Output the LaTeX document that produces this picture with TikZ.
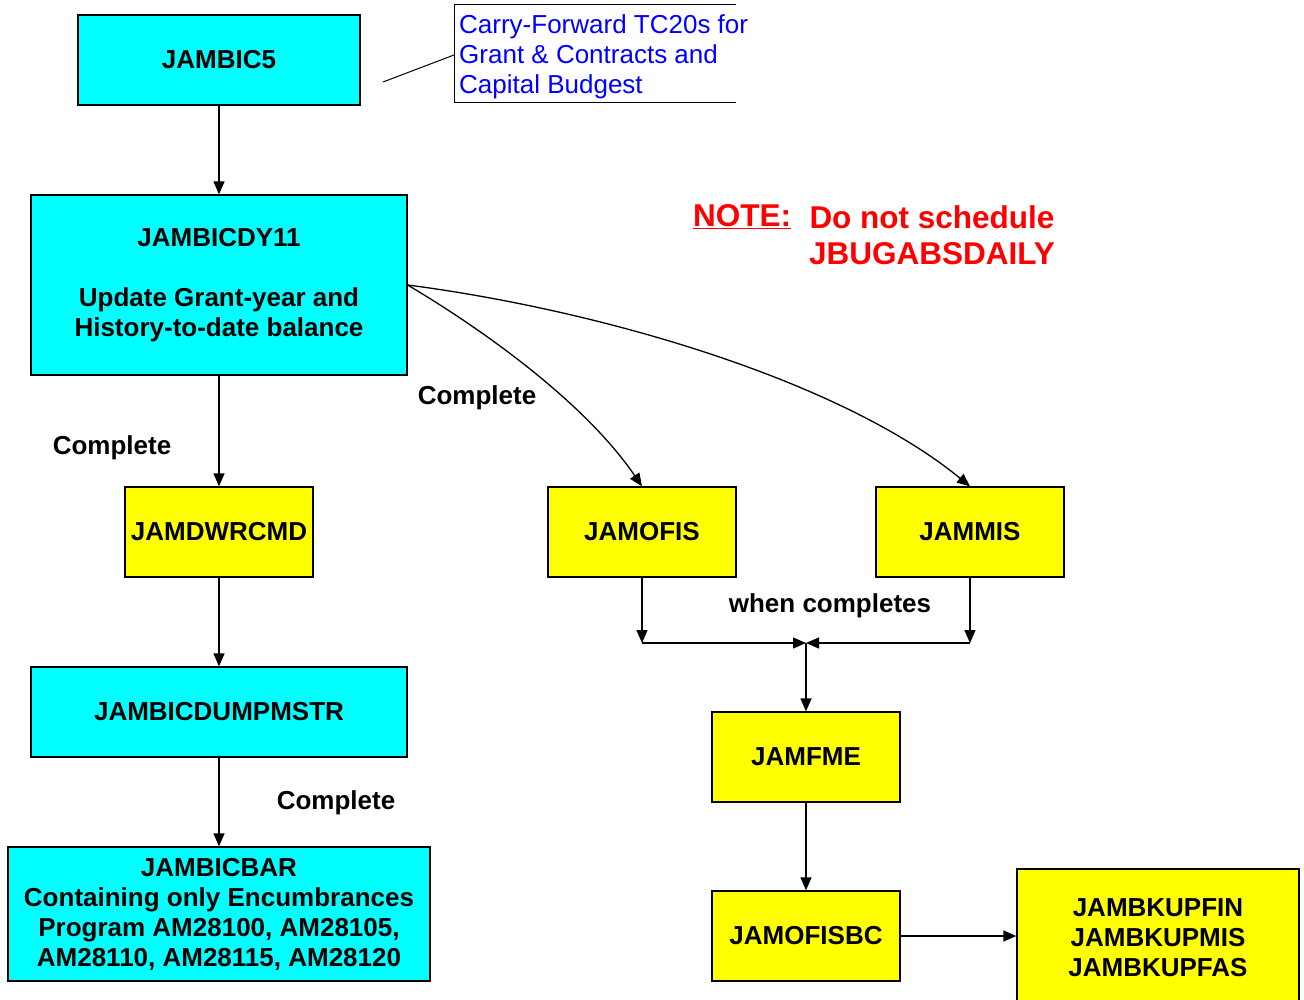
\documentclass[tikz,border=0pt]{standalone}
\usepackage{fontspec}
\setmainfont{Liberation Sans}
\usepackage{tikz}
\usetikzlibrary{positioning, arrows.meta}

\definecolor{jobcyan}{RGB}{0,255,255}
\definecolor{jobyellow}{RGB}{255,255,0}
\definecolor{noteblue}{RGB}{0,0,255}
\definecolor{notered}{RGB}{255,0,0}

\tikzset{
    jobbox/.style={draw=black, line width=1.3pt, inner sep=0pt, align=center,
        font=\bfseries\fontsize{26}{30}\selectfont},
    cyanjob/.style={jobbox, fill=jobcyan},
    yellowjob/.style={jobbox, fill=jobyellow},
    steplabel/.style={font=\bfseries\fontsize{26}{30}\selectfont},
    arr/.style={-{Triangle[length=13pt,width=11pt]}, line width=1.3pt},
    link/.style={line width=1.3pt}
}

\begin{document}
\begin{tikzpicture}[x=1pt, y=-1pt]
        \useasboundingbox (0,0) rectangle (1304,1000);

        % left column
        \node[cyanjob, minimum width=282, minimum height=90] (jambicfive) at (219,60) {JAMBIC5};
        \node[cyanjob, minimum width=376, minimum height=180] (jambicdy) at (219,285)
            {JAMBICDY11\\[30pt]Update Grant-year and\\History-to-date balance};
        \node[yellowjob, minimum width=188, minimum height=90] (jamdwrcmd) at (219,532) {JAMDWRCMD};
        \node[cyanjob, minimum width=376, minimum height=90] (jambicdump) at (219,712) {JAMBICDUMPMSTR};
        \node[cyanjob, minimum width=422, minimum height=134] (jambicbar) at (219,914)
            {JAMBICBAR\\Containing only Encumbrances\\Program AM28100, AM28105,\\AM28110, AM28115, AM28120};

        % right column
        \node[yellowjob, minimum width=188, minimum height=90] (jamofis) at (642,532) {JAMOFIS};
        \node[yellowjob, minimum width=188, minimum height=90] (jammis) at (970,532) {JAMMIS};
        \node[yellowjob, minimum width=188, minimum height=90] (jamfme) at (806,757) {JAMFME};
        \node[yellowjob, minimum width=188, minimum height=90] (jamofisbc) at (806,936) {JAMOFISBC};
        \node[yellowjob, minimum width=282, minimum height=138] (jambkup) at (1158,938)
            {JAMBKUPFIN\\JAMBKUPMIS\\JAMBKUPFAS};

        % callout
        \node[anchor=west, inner sep=5pt, align=left, text=noteblue,
            font=\fontsize{26}{30}\selectfont] (cfnote) at (454,57)
            {Carry-Forward TC20s for\\Grant \& Contracts and\\Capital Budgest};
        \draw[line width=1pt] (736,5) -- (454,5) -- (454,103) -- (736,103);
        \coordinate (cftail) at (383,82);
        \draw[line width=1pt] (cftail) -- (454,55);

        % note
        \node[text=notered, font=\bfseries\fontsize{31.5}{36}\selectfont] (notehead) at (742,217) {\underline{NOTE:}};
        \node[text=notered, align=center, font=\bfseries\fontsize{31.5}{36}\selectfont] (notebody) at (932,235)
            {Do not schedule\\JBUGABSDAILY};

        % labels
        \node[steplabel] (compa) at (112,448) {Complete};
        \node[steplabel] (compb) at (477,398) {Complete};
        \node[steplabel] (compc) at (336,803) {Complete};
        \node[steplabel] (whencomp) at (830,606) {when completes};

        % connectors
        \draw[arr] (jambicfive) -- (jambicdy);
        \draw[arr] (jambicdy) -- (jamdwrcmd);
        \draw[arr] (jamdwrcmd) -- (jambicdump);
        \draw[arr] (jambicdump) -- (jambicbar);
        \draw[arr] (jambicdy.east) .. controls (500,340) and (590,410) .. (jamofis.north);
        \draw[arr] (jambicdy.east) .. controls (600,310) and (840,380) .. (jammis.north);

        \coordinate (joint) at (806,643);
        \draw[arr] (jamofis.south) -- (jamofis.south |- joint);
        \draw[arr] (jammis.south) -- (jammis.south |- joint);
        \draw[arr] (jamofis.south |- joint) -- (joint);
        \draw[arr] (jammis.south |- joint) -- (joint);
        \draw[arr] (joint) -- (jamfme.north);
        \draw[arr] (jamfme) -- (jamofisbc);
        \draw[arr] (jamofisbc.east) -- (jamofisbc.east -| jambkup.west);
    \end{tikzpicture}
\end{document}
